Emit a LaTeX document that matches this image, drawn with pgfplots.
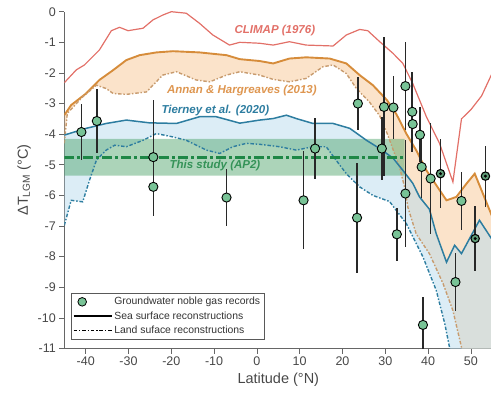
\documentclass[border=0pt]{standalone}
\usepackage{pgfplots}
\pgfplotsset{compat=1.18}
\usepgfplotslibrary{fillbetween}
\usepackage{fontspec}
\setmainfont{Liberation Sans}
\setsansfont{Liberation Sans}
\definecolor{climap}{RGB}{226,112,104}
\definecolor{annan}{RGB}{214,140,58}
\definecolor{annandash}{RGB}{200,155,110}
\definecolor{annantext}{RGB}{222,150,80}
\definecolor{annanfill}{RGB}{247,200,150}
\definecolor{tier}{RGB}{45,125,160}
\definecolor{tierfill}{RGB}{185,220,238}
\definecolor{gline}{RGB}{30,135,70}
\definecolor{gband}{RGB}{70,160,100}
\definecolor{mfill}{RGB}{120,195,150}
\definecolor{bar}{RGB}{40,40,40}
\pgfplotsset{longline/.style={legend image code/.code={\draw[##1] (0pt,0pt) -- (38pt,0pt);}}}
\begin{document}
\begin{tikzpicture}
\begin{axis}[
  scale only axis, width=428pt, height=336.8pt,
  xmin=-45, xmax=55, ymin=-11, ymax=0,
  axis x line*=bottom, axis y line*=left,
  axis line style={-, draw=black!60, line width=0.6pt},
  xtick={-40,-30,...,50}, ytick={-11,-10,...,0},
  tick align=outside, major tick length=5pt,
  tick style={draw=black!60, line width=0.6pt},
  ticklabel style={font=\fontsize{12.5}{14}\selectfont, text=black!72},
  /pgf/number format/assume math mode=true,
  xlabel={Latitude (°N)}, ylabel={ΔT\textsubscript{LGM} (°C)},
  label style={font=\fontsize{14.5}{16}\selectfont, text=black!72},
  legend cell align=left,
  legend style={at={(rel axis cs:0.015,0.028)}, anchor=south west,
    draw=black!65, line width=0.5pt, font=\fontsize{10.4}{12}\selectfont,
    text=black!80, row sep=1.2pt, inner sep=2pt},
]
% ---- Annan & Hargreaves
\addplot[name path=AU, draw=none, forget plot] coordinates {
(-45,-3.38) (-43.4,-3.05) (-39.9,-2.67) (-36.8,-2.23) (-33.6,-1.91) (-30.5,-1.58) (-27.4,-1.42) (-23.5,-1.33) (-19.6,-1.29) (-13.4,-1.33) (-7.1,-1.42) (-4,-1.55) (0.6,-1.61) (3.8,-1.69) (7.6,-1.53) (11.5,-1.49) (17,-1.53) (20.9,-1.69) (24,-2.07) (27.1,-2.4) (30.4,-2.89) (32.6,-3.35) (34.9,-3.98) (37.2,-4.52) (39.6,-5.18) (42.7,-5.83) (44.3,-6.16) (46.6,-6.05) (49,-5.61) (50.9,-5.29) (52.8,-5.94) (55,-6.7)};
\addplot[name path=AL, draw=none, forget plot] coordinates {
(-45,-4.3) (-44.3,-3.32) (-40.7,-2.78) (-37.5,-2.4) (-35.2,-2.51) (-33.6,-2.67) (-30.5,-2.7) (-25.8,-2.62) (-22,-2.07) (-18.8,-1.96) (-14.2,-2.23) (-11,-2.29) (-7.1,-2.07) (-4,-1.96) (0.6,-2.07) (3.8,-2.21) (7.6,-2.29) (11.5,-2.18) (15.4,-1.8) (17.8,-1.74) (20.9,-2.02) (23.2,-2.5) (26.3,-2.95) (28.7,-3.4) (30.5,-4.0) (33.3,-5.07) (34.5,-5.72) (35.3,-6.4) (37.2,-7.25) (40.3,-7.9) (43.5,-8.88) (45.8,-9.76) (47.8,-10.96) (48.5,-12) (55,-12)};
\addplot[annanfill, fill opacity=0.5, forget plot] fill between[of=AU and AL];
% ---- Tierney
\addplot[name path=TU, draw=none, forget plot] coordinates {
(-45,-4.03) (-39.9,-3.81) (-35.2,-3.65) (-30.5,-3.54) (-25.1,-3.63) (-18.8,-3.65) (-13.4,-3.43) (-9.5,-3.43) (-4,-3.64) (0.6,-3.54) (3.8,-3.49) (6.9,-3.38) (9.2,-3.49) (13.1,-3.65) (17.8,-3.65) (21.7,-3.81) (25.6,-4.2) (28.7,-4.47) (31.8,-4.78) (34.1,-5.18) (36.4,-5.6) (38,-6.05) (40.3,-6.45) (41.9,-7.25) (44.3,-8.18) (46.2,-7.63) (47.8,-7.9) (52,-6.81) (55,-7.45)};
\addplot[name path=TL, draw=none, forget plot] coordinates {
(-45,-6.98) (-43.4,-6.16) (-40.7,-6.21) (-39.1,-5.5) (-37.5,-4.85) (-35.2,-4.52) (-33.2,-4.36) (-30.5,-4.41) (-26.6,-4.2) (-23.5,-3.98) (-19.6,-4.09) (-16.5,-4.2) (-11.8,-4.52) (-8.7,-4.63) (-5.6,-4.41) (-2.5,-4.3) (0.6,-4.33) (5.3,-4.41) (9.2,-4.52) (13.1,-4.41) (16.2,-4.41) (18.5,-4.85) (20.9,-5.29) (24,-5.72) (27.1,-6.0) (31,-6.2) (34.9,-6.92) (38.8,-8.01) (41.9,-9.1) (43.9,-10.19) (45,-10.96) (45.5,-12) (55,-12)};
\addplot[tierfill, fill opacity=0.5, forget plot] fill between[of=TU and TL];
% ---- This study band
\addplot[draw=none, fill=gband, fill opacity=0.45, forget plot] coordinates {(-45,-4.15) (34.5,-4.15) (34.5,-5.35) (-45,-5.35) (-45,-4.15)};
% ---- lines
\addplot[climap, line width=1.2pt, forget plot] coordinates {
(-45,-2.32) (-42.2,-1.9) (-40.3,-1.74) (-36.8,-1.25) (-34,-0.62) (-32.1,-0.51) (-30.1,-0.62) (-26.6,-0.54) (-24.3,-0.27) (-22,-0.11) (-20,0) (-16.5,-0.05) (-13.4,-0.38) (-10.3,-0.76) (-6.4,-1.09) (-4,-1.0) (0.6,-1.03) (3.8,-1.09) (7.6,-0.98) (11.5,-1.09) (17.8,-1.12) (20.9,-0.76) (24,-0.58) (25.9,-0.62) (28.7,-0.98) (31.8,-1.36) (34.1,-1.69) (36.4,-2.34) (39.6,-3.43) (42.7,-4.31) (45.8,-5.56) (47.8,-3.5) (50,-3.2) (52.5,-2.75) (55,-2.0)};
\addplot[annan, line width=1.9pt, forget plot] coordinates {
(-45,-3.38) (-43.4,-3.05) (-39.9,-2.67) (-36.8,-2.23) (-33.6,-1.91) (-30.5,-1.58) (-27.4,-1.42) (-23.5,-1.33) (-19.6,-1.29) (-13.4,-1.33) (-7.1,-1.42) (-4,-1.55) (0.6,-1.61) (3.8,-1.69) (7.6,-1.53) (11.5,-1.49) (17,-1.53) (20.9,-1.69) (24,-2.07) (27.1,-2.4) (30.4,-2.89) (32.6,-3.35) (34.9,-3.98) (37.2,-4.52) (39.6,-5.18) (42.7,-5.83) (44.3,-6.16) (46.6,-6.05) (49,-5.61) (50.9,-5.29) (52.8,-5.94) (55,-6.7)};
\addplot[annandash, line width=1.4pt, dash pattern=on 3.5pt off 1.8pt on 1.5pt off 1.8pt, forget plot] coordinates {
(-45,-4.3) (-44.3,-3.32) (-40.7,-2.78) (-37.5,-2.4) (-35.2,-2.51) (-33.6,-2.67) (-30.5,-2.7) (-25.8,-2.62) (-22,-2.07) (-18.8,-1.96) (-14.2,-2.23) (-11,-2.29) (-7.1,-2.07) (-4,-1.96) (0.6,-2.07) (3.8,-2.21) (7.6,-2.29) (11.5,-2.18) (15.4,-1.8) (17.8,-1.74) (20.9,-2.02) (23.2,-2.5) (26.3,-2.95) (28.7,-3.4) (30.5,-4.0) (33.3,-5.07) (34.5,-5.72) (35.3,-6.4) (37.2,-7.25) (40.3,-7.9) (43.5,-8.88) (45.8,-9.76) (47.8,-10.96) (48.5,-12)};
\addplot[tier, line width=1.5pt, forget plot] coordinates {
(-45,-4.03) (-39.9,-3.81) (-35.2,-3.65) (-30.5,-3.54) (-25.1,-3.63) (-18.8,-3.65) (-13.4,-3.43) (-9.5,-3.43) (-4,-3.64) (0.6,-3.54) (3.8,-3.49) (6.9,-3.38) (9.2,-3.49) (13.1,-3.65) (17.8,-3.65) (21.7,-3.81) (25.6,-4.2) (28.7,-4.47) (31.8,-4.78) (34.1,-5.18) (36.4,-5.6) (38,-6.05) (40.3,-6.45) (41.9,-7.25) (44.3,-8.18) (46.2,-7.63) (47.8,-7.9) (52,-6.81) (55,-7.45)};
\addplot[tier, line width=1.4pt, dash pattern=on 3.5pt off 1.8pt on 1.5pt off 1.8pt, forget plot] coordinates {
(-45,-6.98) (-43.4,-6.16) (-40.7,-6.21) (-39.1,-5.5) (-37.5,-4.85) (-35.2,-4.52) (-33.2,-4.36) (-30.5,-4.41) (-26.6,-4.2) (-23.5,-3.98) (-19.6,-4.09) (-16.5,-4.2) (-11.8,-4.52) (-8.7,-4.63) (-5.6,-4.41) (-2.5,-4.3) (0.6,-4.33) (5.3,-4.41) (9.2,-4.52) (13.1,-4.41) (16.2,-4.41) (18.5,-4.85) (20.9,-5.29) (24,-5.72) (27.1,-6.0) (31,-6.2) (34.9,-6.92) (38.8,-8.01) (41.9,-9.1) (43.9,-10.19) (45,-10.96) (45.5,-12)};
\addplot[gline, line width=2.8pt, dash pattern=on 10pt off 3pt on 3pt off 3pt, forget plot] coordinates {(-45,-4.75) (34.5,-4.75)};
% ---- noble gas records
\addplot[forget plot, only marks, mark=*, mark size=4.6pt, mark options={fill=mfill, draw=black, line width=0.9pt, solid},
  error bars/.cd, y dir=both, y explicit, error mark=none,
  error bar style={line width=1.6pt, draw=bar}]
  table[x=x, y=y, y error=e] {
x y e
-41.0 -3.93 0.92
-37.4 -3.57 1.05
-24.2 -4.75 1.87
-24.2 -5.72 0.95
-7.1 -6.07 0.93
10.9 -6.16 1.6
13.6 -4.47 1.0
23.6 -3.0 0.88
23.4 -6.73 1.8
29.7 -3.11 2.27
29.2 -4.47 1.03
31.9 -3.13 1.03
32.7 -7.27 0.86
34.7 -2.43 1.45
34.7 -5.94 1.75
36.3 -3.27 1.3
36.4 -3.67 0.8
38.1 -4.02 0.9
38.5 -5.07 1.0
40.6 -5.45 1.8
38.8 -10.23 0.9
46.4 -8.83 0.95
47.8 -6.18 0.95
};
\addplot[forget plot, only marks, mark=*, mark size=4.2pt, mark options={fill=mfill!80!black, draw=black, line width=1.1pt, solid},
  error bars/.cd, y dir=both, y explicit, error mark=none,
  error bar style={line width=1.6pt, draw=bar}]
  table[x=x, y=y, y error=e] {
x y e
42.9 -5.29 1.13
51.0 -7.41 1.07
53.4 -5.37 1.0
};
\addplot[forget plot, only marks, mark=*, mark size=1.3pt, mark options={fill=black, draw=black}]
  table[x=x, y=y] {
x y
42.9 -5.29
51.0 -7.41
53.4 -5.37
};
% ---- labels
\node[font=\bfseries\itshape\fontsize{11.5}{13}\selectfont, text=climap] at (axis cs:4.2,-0.63) {CLIMAP (1976)};
\node[font=\bfseries\itshape\fontsize{11.5}{13}\selectfont, text=annantext] at (axis cs:-3.5,-2.56) {Annan \& Hargreaves (2013)};
\node[font=\bfseries\itshape\fontsize{11.5}{13}\selectfont, text=tier] at (axis cs:-9.7,-3.22) {Tierney et al. (2020)};
\node[font=\bfseries\itshape\fontsize{11.5}{13}\selectfont, text=gline!90!white] at (axis cs:-9.8,-5.02) {This study (AP2)};
% ---- legend
\addlegendimage{only marks, mark=*, mark size=4.3pt, mark options={fill=mfill, draw=black, line width=0.8pt}}
\addlegendentry{Groundwater noble gas records}
\addlegendimage{black, line width=1.4pt, longline}
\addlegendentry{Sea surface reconstructions}
\addlegendimage{black, line width=1.4pt, dash pattern=on 3.5pt off 1.8pt on 1.5pt off 1.8pt, longline}
\addlegendentry{Land suface reconstructions}
\end{axis}
\pgfresetboundingbox
\path[use as bounding box] (-64.3pt,-48.5pt) rectangle (426.7pt,348.5pt);
\end{tikzpicture}
\end{document}
